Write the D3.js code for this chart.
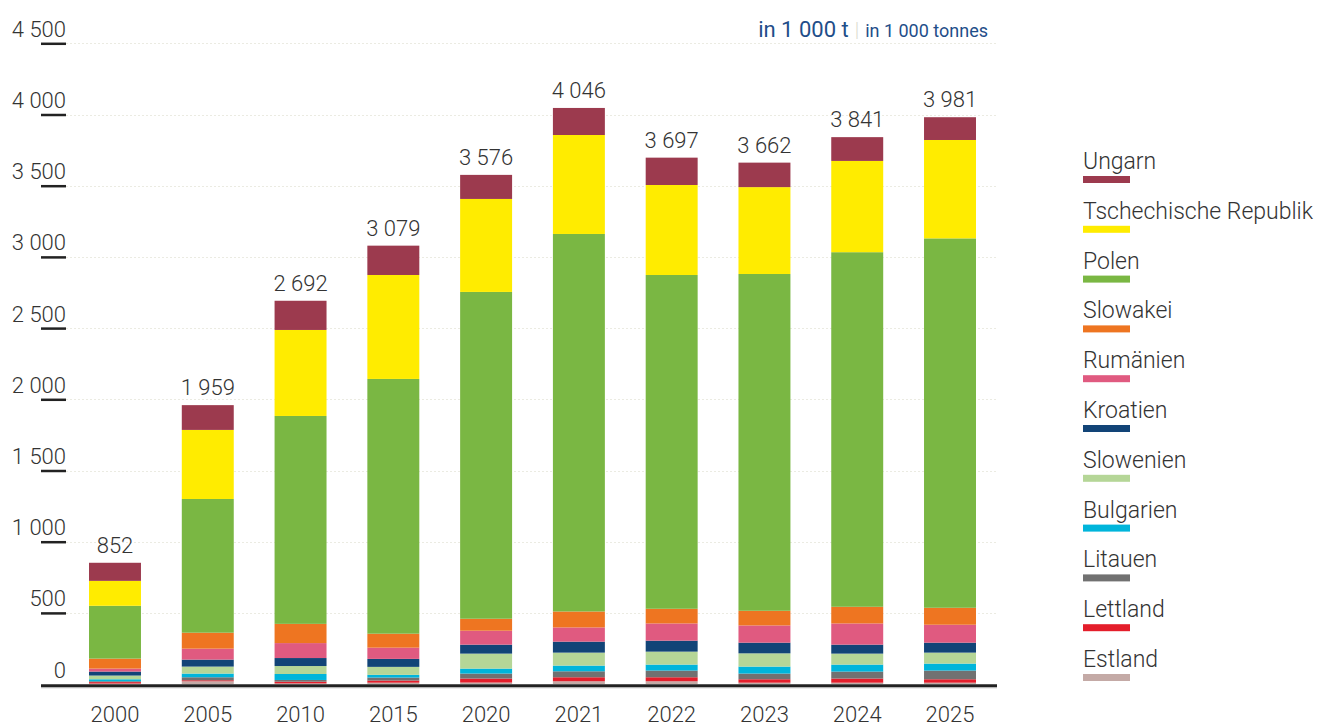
<!DOCTYPE html>
<html>
<head>
<meta charset="utf-8">
<script src="https://cdn.jsdelivr.net/npm/d3@7"></script>
<style>
  html, body { margin: 0; padding: 0; background: #fff; }
  svg { display: block; font-family: Roboto, "Noto Sans", sans-serif; }
</style>
</head>
<body>
<svg id="chart" width="1317" height="727"></svg>
<script>
// ---- data ----
const years = ["2000","2005","2010","2015","2020","2021","2022","2023","2024","2025"];
// stacking order bottom -> top
const countries = ["Estland","Lettland","Litauen","Bulgarien","Slowenien","Kroatien","Rumänien","Slowakei","Polen","Tschechische Republik","Ungarn"];
const colors = ["#c4aaa6","#e41e2b","#717171","#00b5db","#b5d697","#124477","#e05a80","#ee7521","#7ab743","#ffec00","#9c3a4e"];
const estland    = [4, 20, 5, 10, 11, 20, 20, 10, 10, 10];
const lettland   = [10, 7, 12, 15, 28, 28, 28, 24, 29, 24];
const litauen    = [6, 21, 12, 21, 35, 42, 47, 40, 49, 61];
const bulgarien  = [14, 26, 42, 19, 35, 40, 42, 49, 49, 49];
const slowenien  = [26, 49, 56, 56, 105, 91, 91, 93, 77, 77];
const kroatien   = [28, 49, 56, 56, 63, 77, 77, 75, 63, 70];
const rumaenien  = [21, 77, 105, 79, 98, 100, 121, 121, 149, 126];
const slowakei   = [70, 112, 135, 98, 84, 112, 103, 103, 117, 119];
const polen      = [371, 939, 1460, 1789, 2295, 2651, 2344, 2365, 2490, 2594];
const tschechien = [175, 485, 604, 730, 653, 695, 632, 610, 641, 691];
const ungarn     = [127, 174, 205, 206, 169, 190, 192, 172, 167, 160];
const totals     = [852, 1959, 2692, 3079, 3576, 4046, 3697, 3662, 3841, 3981];
const yTicks     = [0, 500, 1000, 1500, 2000, 2500, 3000, 3500, 4000, 4500];
const unitMain = "in 1 000 t";
const unitSub  = "in 1 000 tonnes";

const seriesValues = [estland, lettland, litauen, bulgarien, slowenien, kroatien, rumaenien, slowakei, polen, tschechien, ungarn];

// ---- build table ----
const table = years.map((y, i) => {
  const row = { year: y, total: totals[i] };
  countries.forEach((c, k) => row[c] = seriesValues[k][i]);
  return row;
});

const svg = d3.select("#chart");
const x = d3.scaleBand().domain(years).range([68.6, 996.4]).paddingInner(0.44).paddingOuter(0.22);
const y = d3.scaleLinear().domain([0, 4500]).range([684.1, 43.3]);
const fmt = d3.formatLocale({ decimal: ",", thousands: " ", grouping: [3], currency: ["", ""] }).format(",d");

// gridlines
svg.append("g").selectAll("line").data(yTicks.filter(d => d > 0)).join("line")
  .attr("x1", 66).attr("x2", 996)
  .attr("y1", d => Math.round(y(d)) + 0.5).attr("y2", d => Math.round(y(d)) + 0.5)
  .attr("stroke", "#ebebe2").attr("stroke-width", 1).attr("stroke-dasharray", "2,2");

// y axis
const yAxis = svg.append("g").attr("transform", "translate(66,0)")
  .call(d3.axisLeft(y).tickValues(yTicks).tickSize(25).tickFormat(fmt));
yAxis.select(".domain").remove();
yAxis.selectAll(".tick line").attr("stroke", "#222").attr("stroke-width", 2.5);
yAxis.selectAll(".tick text")
  .attr("x", 0).attr("dy", "-7px").attr("y", 0)
  .attr("text-anchor", "end")
  .attr("font-family", "Roboto, sans-serif").attr("font-weight", 300)
  .attr("font-size", 22).attr("fill", "#333");
yAxis.selectAll(".tick").filter(d => d === 0).select("line").remove();

// stacked bars
const stacked = d3.stack().keys(countries)(table);
svg.append("g").selectAll("g").data(stacked).join("g")
  .attr("fill", (d, i) => colors[i])
  .selectAll("rect").data(d => d).join("rect")
  .attr("x", d => x(d.data.year))
  .attr("width", x.bandwidth())
  .attr("y", d => y(d[1]))
  .attr("height", d => Math.max(0, y(d[0]) - y(d[1])));

// baseline
svg.append("line").attr("x1", 41).attr("x2", 997).attr("y1", 685.6).attr("y2", 685.6)
  .attr("stroke", "#222").attr("stroke-width", 2.6);
svg.append("line").attr("x1", 41).attr("x2", 997).attr("y1", 687.6).attr("y2", 687.6)
  .attr("stroke", "#b5b5b5").attr("stroke-width", 1.2);

// total labels
svg.append("g").selectAll("text").data(table).join("text")
  .attr("x", d => x(d.year) + x.bandwidth() / 2)
  .attr("y", d => y(d.total) - 10)
  .attr("text-anchor", "middle")
  .attr("font-weight", 300).attr("font-size", 22).attr("fill", "#333")
  .text(d => fmt(d.total));

// x axis labels
const xAxis = svg.append("g").attr("transform", "translate(0,700)")
  .call(d3.axisBottom(x).tickSize(0).tickPadding(0));
xAxis.select(".domain").remove();
xAxis.selectAll(".tick text")
  .attr("dy", 0).attr("y", 22)
  .attr("font-family", "Roboto, sans-serif").attr("font-weight", 300)
  .attr("font-size", 22).attr("fill", "#333");

// unit header
const hdr = svg.append("text").attr("x", 988).attr("y", 37).attr("text-anchor", "end")
  .attr("fill", "#1f4e89");
hdr.append("tspan").attr("font-size", 22).attr("font-weight", 400).text(unitMain);
hdr.append("tspan").attr("font-size", 20).attr("fill", "#dcdcd0").attr("font-weight", 300).attr("dx", 6).text("|");
hdr.append("tspan").attr("font-size", 18).attr("font-weight", 400).attr("dx", 6).text(unitSub);

// legend (top -> bottom: reverse of stack order)
const legendItems = countries.map((c, i) => ({ name: c, color: colors[i] })).reverse();
const lg = svg.append("g").selectAll("g").data(legendItems).join("g")
  .attr("transform", (d, i) => `translate(1083,${169 + i * 49.8})`);
lg.append("text").attr("x", 0).attr("y", 0)
  .attr("font-weight", 300).attr("font-size", 23).attr("fill", "#333")
  .text(d => d.name);
lg.append("rect").attr("x", 0).attr("y", 7).attr("width", 47).attr("height", 7)
  .attr("fill", d => d.color);
</script>
</body>
</html>
